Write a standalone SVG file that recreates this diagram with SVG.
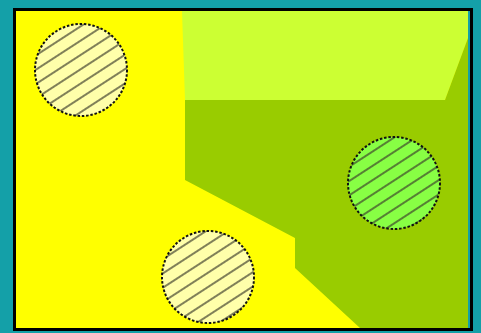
<svg xmlns="http://www.w3.org/2000/svg" width="481" height="333" viewBox="0 0 481 333">
<defs>
<pattern id="hatch" patternUnits="userSpaceOnUse" width="12" height="12" patternTransform="rotate(-33)">
<line x1="0" y1="6" x2="12" y2="6" stroke="#3a3a2a" stroke-width="1.3"/>
</pattern>
<style>
.circ{stroke:#111;stroke-width:2;stroke-dasharray:2.5,1.8}
</style>
</defs>
<rect width="481" height="333" fill="#14A0A8"/>
<rect x="14.5" y="9.5" width="457" height="320" fill="#FFFF00" stroke="#000" stroke-width="3"/>
<rect x="468" y="11" width="2" height="317" fill="#14A0A8"/>
<g id="region-lightgreen">
<polygon points="182,11 468,11 468,38 445,100 185,100" fill="#CCFF33"/>
</g>
<g id="region-olive">
<polygon points="185,100 445,100 468,38 468,328 360,328 295,268 295,238 185,180" fill="#99CC00"/>
</g>
<g id="circle1">
<circle cx="81" cy="70" r="46" fill="#FFFFAA"/>
<circle cx="81" cy="70" r="46" fill="url(#hatch)" class="circ"/>
</g>
<g id="circle2">
<circle cx="208" cy="277" r="46" fill="#FFFFAA"/>
<circle cx="208" cy="277" r="46" fill="url(#hatch)" class="circ"/>
</g>
<g id="circle3">
<circle cx="394" cy="183" r="46" fill="#88FF44"/>
<circle cx="394" cy="183" r="46" fill="url(#hatch)" class="circ"/>
</g>
</svg>
